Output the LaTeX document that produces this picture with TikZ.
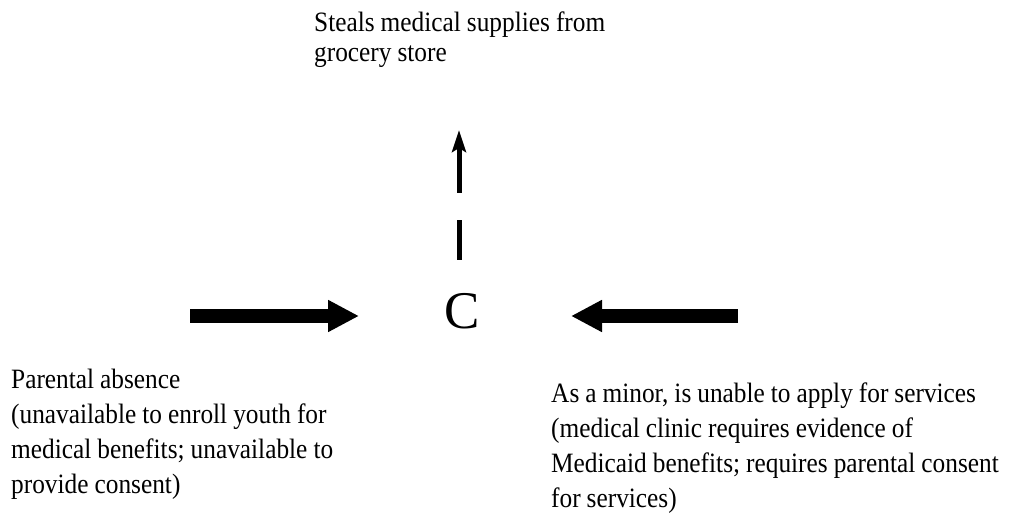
\documentclass[tikz,border=0pt]{standalone}
\usepackage{fontspec}
\setmainfont{Liberation Serif}
\newfontfamily\labelfont[FakeStretch=0.905]{Liberation Serif}
\usetikzlibrary{arrows.meta}
\begin{document}
\begin{tikzpicture}[x=1pt,y=-1pt,
  blocktext/.style={anchor=base west,inner sep=0pt,align=left,text width=480pt,
    execute at begin node={\spaceskip=6pt plus 1pt minus 1pt\relax}},
  toptext/.style={blocktext,font=\labelfont\fontsize{28}{30}\selectfont},
  sidetext/.style={blocktext,font=\labelfont\fontsize{28}{35}\selectfont},
  bigarrow/.style={line width=14pt,-{Triangle[length=31pt,width=30pt]}},
  thinarrow/.style={line width=5pt,-{Stealth[length=22pt,width=14pt,inset=4pt]}},
  thinbar/.style={line width=5pt}]
  \useasboundingbox (0,0) rectangle (1015,513);

  % central letter
  \node[anchor=base,inner sep=0pt,font=\fontsize{53}{60}\selectfont] (C) at (462,328) {C};

  % outcome above
  \node[toptext] (steal) at (314,32) {Steals medical supplies from\\grocery store};

  % influences left and right
  \node[sidetext] (parent) at (11,388) {Parental absence\\(unavailable to enroll youth for\\medical benefits; unavailable to\\provide consent)};
  \node[sidetext] (minor) at (551,402) {As a minor, is unable to apply for services\\(medical clinic requires evidence of\\Medicaid benefits; requires parental consent\\for services)};

  % arrow end points
  \coordinate (la) at (190,316);
  \coordinate (lb) at (359,316);
  \coordinate (ra) at (738,316);
  \coordinate (rb) at (571,316);
  \coordinate (ua) at (459,260);
  \coordinate (ub) at (459,220);
  \coordinate (uc) at (459,193);
  \coordinate (ud) at (459,130);

  \draw[bigarrow] (la) -- (lb);
  \draw[bigarrow] (ra) -- (rb);
  \draw[thinbar] (ua) -- (ub);
  \draw[thinarrow] (uc) -- (ud);
\end{tikzpicture}
\end{document}
